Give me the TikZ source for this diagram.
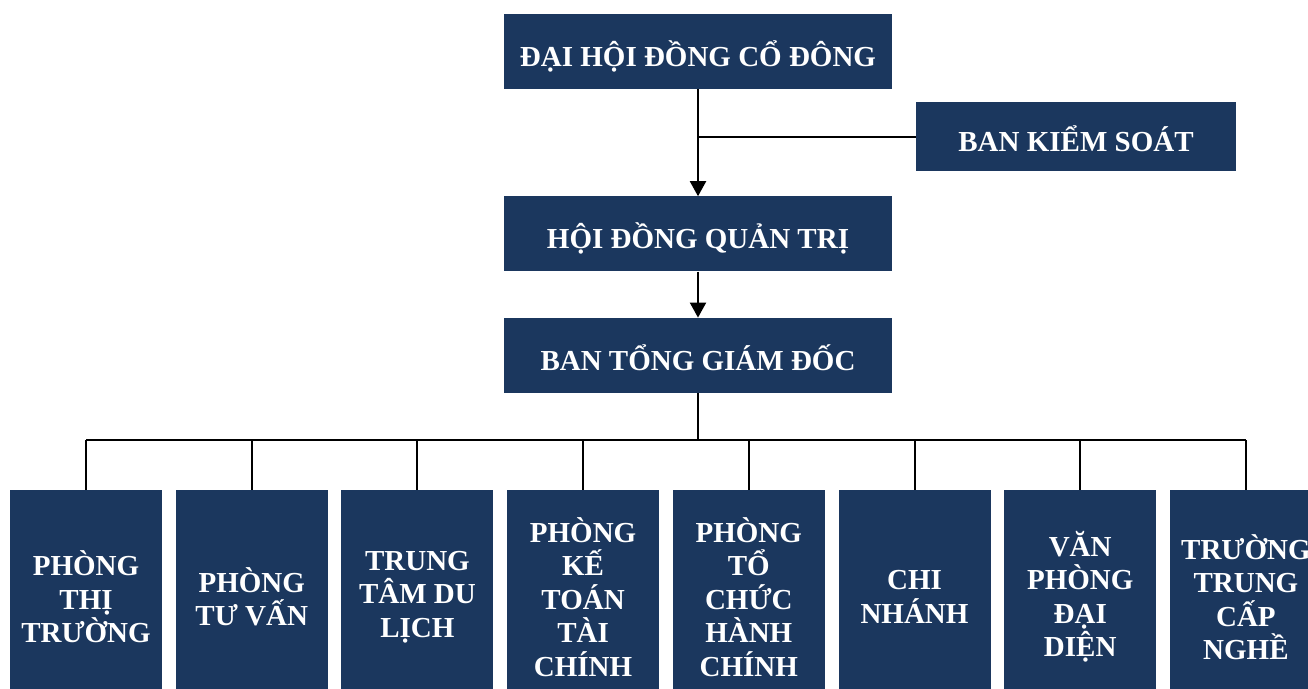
\documentclass[tikz,border=0pt]{standalone}
\usepackage{fontspec}
\setmainfont{Liberation Serif}
\usetikzlibrary{positioning,arrows.meta}
\definecolor{navy}{RGB}{27,55,94}

\tikzset{
  box/.style      = {fill=navy, text=white, align=center, inner sep=0pt,
                     font=\bfseries\fontsize{29}{33.5}\selectfont},
  top box/.style  = {box, minimum width=388pt, minimum height=75pt,
                     text height=30pt, text depth=0pt},
  side box/.style = {box, minimum width=320pt, minimum height=69pt,
                     text height=29pt, text depth=0pt},
  unit box/.style = {box, minimum width=152pt, minimum height=214pt},
  link/.style     = {draw, line width=2pt}
}

\begin{document}
\begin{tikzpicture}[x=1pt, y=-1pt,
  >={Triangle[length=15pt,width=16pt]}]
\useasboundingbox (0,0) rectangle (1308,688);
\clip (0,0) rectangle (1308,688);

% The upper levels, relatively positioned nodes
\begin{scope}[every node/.style={top box}]
\node (dhd) at (698,51.5) {ĐẠI HỘI ĐỒNG CỔ ĐÔNG};
\node [below=107pt of dhd] (hdqt) {HỘI ĐỒNG QUẢN TRỊ};
\node [below=46pt of hdqt] (btgd) {BAN TỔNG GIÁM ĐỐC};
\end{scope}

\node[side box] (bks) at (1076,136.5) {BAN KIỂM SOÁT};

% The departments
\begin{scope}[every node/.style={unit box}, node distance=13.3pt]
\node (b1) at (86,597) {PHÒNG\\THỊ\\TRƯỜNG};
\node [right=of b1] (b2) {PHÒNG\\TƯ VẤN};
\node [right=of b2] (b3) {TRUNG\\TÂM DU\\LỊCH};
\node [right=of b3] (b4) {PHÒNG\\KẾ\\TOÁN\\TÀI\\CHÍNH};
\node [right=of b4] (b5) {PHÒNG\\TỔ\\CHỨC\\HÀNH\\CHÍNH};
\node [right=of b5] (b6) {CHI\\NHÁNH};
\node [right=of b6] (b7) {VĂN\\PHÒNG\\ĐẠI\\DIỆN};
\node [right=of b7] (b8) {TRƯỜNG\\TRUNG\\CẤP\\NGHỀ};
\end{scope}

\draw[link, ->] (dhd) -- (hdqt);
\draw[link] (bks.west) -- (bks.west -| dhd.south);
\draw[link, ->] (hdqt) -- (btgd);

\draw[link] (btgd.south) -- ++(0,-47pt) coordinate (bus);
\draw[link] (b1.north |- bus) -- (b8.north |- bus);

\foreach \value in {1,...,8}
  \draw[link] (b\value.north |- bus) -- (b\value.north);

\end{tikzpicture}
\end{document}
